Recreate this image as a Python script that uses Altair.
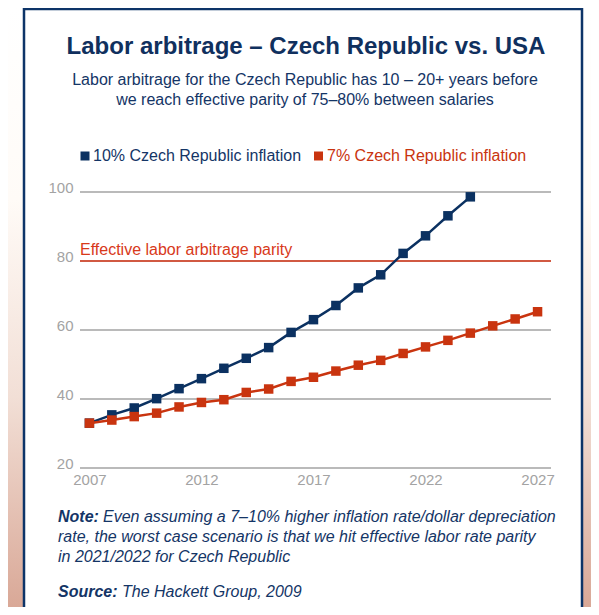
import altair as alt
import pandas as pd

# ---- data ----
years_blue = list(range(2007, 2025))
blue_vals = [33.0, 35.4, 37.4, 40.1, 43.0, 45.9, 48.9, 51.8, 54.9, 59.3,
             63.0, 67.1, 72.2, 76.0, 82.2, 87.3, 93.1, 98.6]
years_red = list(range(2007, 2028))
red_vals = [33.0, 33.9, 34.9, 35.9, 37.7, 39.0, 39.8, 41.9, 42.9, 45.1,
            46.3, 48.1, 49.8, 51.2, 53.2, 55.1, 57.0, 59.1, 61.2, 63.2, 65.3]
x_ticks = [2007, 2012, 2017, 2022, 2027]
y_ticks = [20, 40, 60, 80, 100]
parity_value = 80

title_text = "Labor arbitrage \u2013 Czech Republic vs. USA"
subtitle_lines = ["Labor arbitrage for the Czech Republic has 10 \u2013 20+ years before",
                  "we reach effective parity of 75\u201380% between salaries"]
legend_blue = "10% Czech Republic inflation"
legend_red = "7% Czech Republic inflation"
parity_label = "Effective labor arbitrage parity"
note_lines = ["Even assuming a 7\u201310% higher inflation rate/dollar depreciation",
              "rate, the worst case scenario is that we hit effective labor rate parity",
              "in 2021/2022 for Czech Republic"]
source_text = "The Hackett Group, 2009"

BLUE = "#0b3161"
RED = "#c9340f"
NAVY_TEXT = "#143566"
GREY = "#a3a3a3"
FONT = "Liberation Sans"

blue_df = pd.DataFrame({"year": years_blue, "value": blue_vals})
red_df = pd.DataFrame({"year": years_red, "value": red_vals})
grid_df = pd.DataFrame({"value": y_ticks})
one = pd.DataFrame({"k": [0]})

xscale = alt.Scale(domain=[2006.58, 2027.6], nice=False, zero=False)
yscale = alt.Scale(domain=[20, 100], nice=False, zero=False)
xaxis = alt.Axis(values=x_ticks, format="d", grid=False, domain=False, ticks=False,
                 labelFontSize=15, labelColor=GREY, labelPadding=4, labelFlush=False,
                 labelFont=FONT, title=None, zindex=1)
yaxis = alt.Axis(values=y_ticks, grid=False, domain=False,
                 ticks=False, labelFontSize=15, labelColor=GREY, labelPadding=7,
                 labelOffset=-5, labelFont=FONT, title=None, zindex=1)

# ---- decorations ----
bg = alt.Chart(one).mark_rect(
    fill=alt.Gradient(gradient="linear", x1=0, y1=0, x2=0, y2=1,
                      stops=[alt.GradientStop(color="#ffffff", offset=0),
                             alt.GradientStop(color="#fffbf7", offset=0.32),
                             alt.GradientStop(color="#f2dfd6", offset=0.65),
                             alt.GradientStop(color="#d9a897", offset=1)])
).encode(x=alt.value(-72), x2=alt.value(511), y=alt.value(-184), y2=alt.value(415))

box = alt.Chart(one).mark_rect(fill="white", stroke="#0d3468", strokeWidth=2.5).encode(
    x=alt.value(-56), x2=alt.value(502), y=alt.value(-183), y2=alt.value(440))

title = alt.Chart(one).mark_text(font=FONT, fontSize=24, fontWeight="bold", color="#10305e",
                                 align="center", baseline="middle").encode(
    x=alt.value(226), y=alt.value(-145), text=alt.value(title_text))

sub = alt.Chart(one).mark_text(font=FONT, fontSize=16, color=NAVY_TEXT, align="center",
                               baseline="middle", lineHeight=20).encode(
    x=alt.value(225), y=alt.value(-112), text=alt.value(subtitle_lines))

leg_sq_b = alt.Chart(one).mark_square(size=81, color=BLUE, opacity=1).encode(
    x=alt.value(5), y=alt.value(-36))
leg_tx_b = alt.Chart(one).mark_text(font=FONT, fontSize=16, color=NAVY_TEXT, align="left",
                                    baseline="middle").encode(
    x=alt.value(13), y=alt.value(-36), text=alt.value(legend_blue))
leg_sq_r = alt.Chart(one).mark_square(size=81, color=RED, opacity=1).encode(
    x=alt.value(238.5), y=alt.value(-36))
leg_tx_r = alt.Chart(one).mark_text(font=FONT, fontSize=16, color=RED, align="left",
                                    baseline="middle").encode(
    x=alt.value(247), y=alt.value(-36), text=alt.value(legend_red))

# ---- grid lines (from tick values, through the y scale) ----
grid = alt.Chart(grid_df).mark_rule(color=GREY, strokeWidth=1.5).encode(
    y=alt.Y("value:Q", scale=yscale, axis=yaxis), x=alt.value(0), x2=alt.value(471))

# ---- data layers ----
blue_line = alt.Chart(blue_df).mark_line(color=BLUE, strokeWidth=2.5).encode(
    x=alt.X("year:Q", scale=xscale, axis=xaxis),
    y=alt.Y("value:Q", scale=yscale, axis=yaxis))
blue_pts = alt.Chart(blue_df).mark_square(size=90, color=BLUE, opacity=1).encode(
    x="year:Q", y="value:Q")
red_line = alt.Chart(red_df).mark_line(color=RED, strokeWidth=2.5).encode(
    x="year:Q", y="value:Q")
red_pts = alt.Chart(red_df).mark_square(size=90, color=RED, opacity=1).encode(
    x="year:Q", y="value:Q")

parity_rule = alt.Chart(one).mark_rule(color="#d8391a", strokeWidth=1.5).encode(
    y=alt.datum(parity_value), x=alt.value(0), x2=alt.value(471))
parity_txt = alt.Chart(one).mark_text(font=FONT, fontSize=16, color="#d8391a", align="left",
                                      baseline="alphabetic", dy=-6).encode(
    x=alt.value(0), y=alt.datum(parity_value), text=alt.value(parity_label))

# ---- notes ----
note_b = alt.Chart(one).mark_text(font=FONT, fontSize=16, fontStyle="italic", fontWeight="bold",
                                  color=NAVY_TEXT, align="left", baseline="alphabetic").encode(
    x=alt.value(-22), y=alt.value(330), text=alt.value("Note:"))
note1 = alt.Chart(one).mark_text(font=FONT, fontSize=16, fontStyle="italic", color=NAVY_TEXT,
                                 align="left", baseline="alphabetic").encode(
    x=alt.value(23), y=alt.value(330), text=alt.value(note_lines[0]))
note2 = alt.Chart(one).mark_text(font=FONT, fontSize=16, fontStyle="italic", color=NAVY_TEXT,
                                 align="left", baseline="alphabetic", lineHeight=20).encode(
    x=alt.value(-22), y=alt.value(350), text=alt.value(note_lines[1:]))
src_b = alt.Chart(one).mark_text(font=FONT, fontSize=16, fontStyle="italic", fontWeight="bold",
                                 color=NAVY_TEXT, align="left", baseline="alphabetic").encode(
    x=alt.value(-22), y=alt.value(405), text=alt.value("Source:"))
src = alt.Chart(one).mark_text(font=FONT, fontSize=16, fontStyle="italic", color=NAVY_TEXT,
                               align="left", baseline="alphabetic").encode(
    x=alt.value(42), y=alt.value(405), text=alt.value(source_text))

chart = alt.layer(
    bg, box, title, sub, leg_sq_b, leg_tx_b, leg_sq_r, leg_tx_r, grid,
    parity_rule, parity_txt, blue_line, blue_pts, red_line, red_pts,
    note_b, note1, note2, src_b, src
).properties(
    width=471, height=276,
    autosize=alt.AutoSizeParams(type="none"),
    padding={"left": 72, "top": 184, "right": 40, "bottom": 139},
).configure_view(stroke=None)

chart.save("out.html", embed_options={"renderer": "svg", "actions": False})
